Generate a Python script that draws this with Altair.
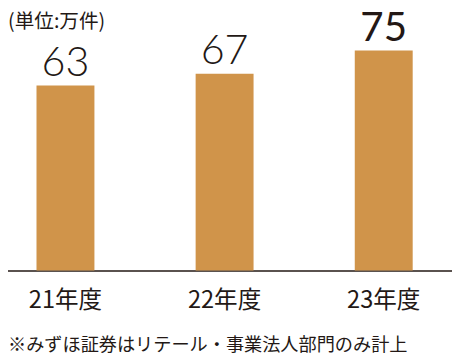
import altair as alt
import pandas as pd

years = ["21年度", "22年度", "23年度"]
values = [63, 67, 75]
unit_label = "(単位:万件)"
footnote = "※みずほ証券はリテール・事業法人部門のみ計上"

df = pd.DataFrame({"year": years, "value": values})
df["label"] = df["value"].astype(str)
last_year = years[-1]

TEXT = "#231815"
BAR = "#D0944A"
JP = "Noto Sans CJK JP"

x = alt.X("year:N", sort=years, title=None,
          scale=alt.Scale(range=[-22.5, 463.5], paddingInner=0.636, paddingOuter=0.318),
          axis=alt.Axis(domain=True, domainColor=TEXT, domainWidth=1.5,
                        ticks=False, grid=False, labelAngle=0, labelFont=JP,
                        labelFontSize=24, labelColor=TEXT, labelPadding=19,
                        labelBaseline="top", labelFontWeight=400))
y = alt.Y("value:Q", title=None, scale=alt.Scale(domain=[0, 88.4], nice=False),
          axis=None)

base = alt.Chart(df)

bars = base.mark_bar(color=BAR).encode(x=x, y=y)

labels = base.mark_text(font="Lato", fontSize=42, fontWeight=300, color=TEXT,
                        baseline="alphabetic", dy=-10).encode(
    x=x, y=y, text="label:N").transform_filter(alt.datum.year != last_year)

labels_last = base.mark_text(font="Lato", fontSize=41, fontWeight=400, color=TEXT,
                             baseline="alphabetic", dy=-10).encode(
    x=x, y=y, text="label:N").transform_filter(alt.datum.year == last_year)

unit = alt.Chart(pd.DataFrame({"t": [unit_label]})).mark_text(
    font=JP, fontSize=20, color=TEXT, align="left", baseline="top").encode(
    x=alt.value(0), y=alt.value(1), text="t:N")

note = alt.Chart(pd.DataFrame({"t": [footnote]})).mark_text(
    font=JP, fontSize=18.5, color=TEXT, align="left", baseline="bottom").encode(
    x=alt.value(0), y=alt.value(350), text="t:N")

chart = alt.layer(bars, labels, labels_last, unit, note).properties(
    width=452, height=264,
    autosize=alt.AutoSizeParams(type="none"),
    padding={"left": 0, "top": 0, "right": 0, "bottom": 85},
    background="white",
).configure_view(strokeWidth=0, stroke=None)

chart.save("out.html", embed_options={"renderer": "svg", "actions": False})
